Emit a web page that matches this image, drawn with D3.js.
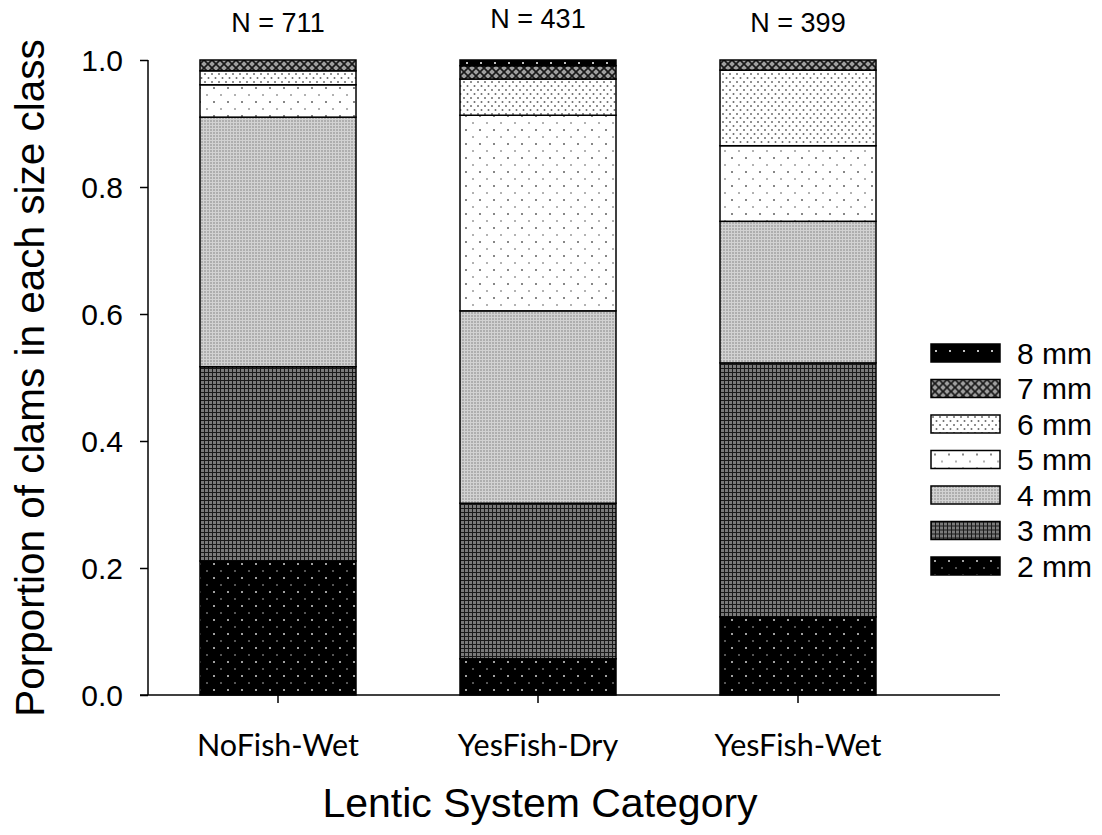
<!DOCTYPE html>
<html>
<head>
<meta charset="utf-8">
<script src="https://cdn.jsdelivr.net/npm/d3@7"></script>
<style>
  body { margin: 0; background: #fff; }
  svg { display: block; }
</style>
</head>
<body>
<svg width="1102" height="835"></svg>
<script>
// categories and size classes
var categories = ["NoFish-Wet", "YesFish-Dry", "YesFish-Wet"];
var sampleSizes = [711, 431, 399];
var sizeClasses = ["2 mm", "3 mm", "4 mm", "5 mm", "6 mm", "7 mm", "8 mm"];

// proportion in each size class, per category
var p2mm = [0.211, 0.057, 0.123];
var p3mm = [0.306, 0.245, 0.400];
var p4mm = [0.393, 0.303, 0.223];
var p5mm = [0.051, 0.308, 0.119];
var p6mm = [0.022, 0.057, 0.119];
var p7mm = [0.017, 0.021, 0.016];
var p8mm = [0.000, 0.009, 0.000];

var yTicks = [0, 0.2, 0.4, 0.6, 0.8, 1.0];

var series = [p2mm, p3mm, p4mm, p5mm, p6mm, p7mm, p8mm];
var rows = categories.map(function (c, i) {
    var r = { cat: c };
    sizeClasses.forEach(function (s, k) { r[s] = series[k][i]; });
    return r;
});

var svg = d3.select("svg");
var defs = svg.append("defs");

var plotLeft = 148, plotRight = 928, plotTop = 60, plotBottom = 695;
var arial = "'Liberation Sans', Arial, sans-serif";

var x = d3.scaleBand()
    .domain(categories)
    .range([plotLeft, plotRight])
    .paddingInner(0.4)
    .paddingOuter(0.2);

var y = d3.scaleLinear()
    .domain([0, 1])
    .range([plotBottom, plotTop]);

// fill patterns, one per size class
function dotPattern(id, w, h, bg, dot, r, pts) {
    var p = defs.append("pattern")
        .attr("id", id)
        .attr("patternUnits", "userSpaceOnUse")
        .attr("width", w).attr("height", h);
    p.append("rect").attr("width", w).attr("height", h).attr("fill", bg);
    pts.forEach(function (q) {
        p.append("rect")
            .attr("x", q[0] - r).attr("y", q[1] - r)
            .attr("width", r * 2).attr("height", r * 2)
            .attr("fill", q[2] || dot);
    });
}

dotPattern("p2", 14, 14, "#000", "#a0a0a0", 1, [[4, 4], [11, 11, "#555"]]);
dotPattern("p4", 3, 3, "#d2d2d2", "#888", 0.7, [[1, 1]]);
dotPattern("p5", 14, 14, "#fff", "#444", 0.8, [[4, 4], [11, 11, "#888"]]);
dotPattern("p6", 7, 8, "#fff", "#555", 0.8, [[2, 2], [5.5, 6]]);
dotPattern("p8", 14, 14, "#000", "#c0c0c0", 1, [[5, 7]]);

var p3 = defs.append("pattern")
    .attr("id", "p3")
    .attr("patternUnits", "userSpaceOnUse")
    .attr("width", 4).attr("height", 4);
p3.append("rect").attr("width", 4).attr("height", 4).attr("fill", "#7a7a7a");
p3.append("path").attr("d", "M0,0.5H4M0.5,0V4").attr("stroke", "#1a1a1a").attr("stroke-width", 1);

var p7 = defs.append("pattern")
    .attr("id", "p7")
    .attr("patternUnits", "userSpaceOnUse")
    .attr("width", 8).attr("height", 8);
p7.append("rect").attr("width", 8).attr("height", 8).attr("fill", "#a0a0a0");
p7.append("path").attr("d", "M0,0L8,8M8,0L0,8").attr("stroke", "#1a1a1a").attr("stroke-width", 1.7);

var fills = ["url(#p2)", "url(#p3)", "url(#p4)", "url(#p5)", "url(#p6)", "url(#p7)", "url(#p8)"];

var stack = d3.stack().keys(sizeClasses);
var layers = stack(rows);

// bars
var g = svg.append("g");
layers.forEach(function (layer, k) {
    g.append("g")
        .selectAll("rect")
        .data(layer.filter(function (d) { return d[1] - d[0] > 0.0005; }))
        .enter().append("rect")
        .attr("x", function (d) { return x(d.data.cat); })
        .attr("y", function (d) { return y(d[1]); })
        .attr("width", x.bandwidth())
        .attr("height", function (d) { return y(d[0]) - y(d[1]); })
        .attr("fill", fills[k])
        .attr("stroke", "#000")
        .attr("stroke-width", 1.5);
});

// axes
var yAxis = d3.axisLeft(y).tickValues(yTicks).tickSize(8).tickFormat(d3.format(".1f"));
var ya = svg.append("g")
    .attr("transform", "translate(" + plotLeft + ",0)")
    .call(yAxis);
ya.select(".domain").remove();
ya.append("line").attr("x1", 0).attr("x2", 0).attr("y1", plotTop).attr("y2", plotBottom)
    .attr("stroke", "#000").attr("stroke-width", 1.5);
ya.selectAll(".tick line").attr("stroke-width", 1.5);
ya.selectAll(".tick text")
    .attr("x", -25)
    .attr("dy", "0.36em")
    .style("font-family", arial)
    .style("font-size", "30px")
    .attr("fill", "#000");

var xAxis = d3.axisBottom(x).tickSize(8).tickSizeOuter(0);
var xa = svg.append("g")
    .attr("transform", "translate(0," + plotBottom + ")")
    .call(xAxis);
xa.select(".domain").remove();
xa.append("line").attr("x1", plotLeft - 8).attr("x2", 1000).attr("y1", 0).attr("y2", 0)
    .attr("stroke", "#000").attr("stroke-width", 1.5);
xa.selectAll(".tick line").attr("stroke-width", 1.5);
xa.selectAll(".tick text")
    .attr("y", 50)
    .attr("dy", "0.36em")
    .style("font-family", "Lato, 'Open Sans', sans-serif")
    .style("font-size", "30.5px")
    .attr("fill", "#000");

// N labels
svg.append("g").selectAll("text")
    .data(categories)
    .enter().append("text")
    .attr("x", function (d) { return x(d) + x.bandwidth() / 2; })
    .attr("y", function (d, i) { return i === 1 ? 28 : 32; })
    .attr("text-anchor", "middle")
    .style("font-family", arial)
    .style("font-size", "27px")
    .text(function (d, i) { return "N = " + sampleSizes[i]; });

// axis titles
svg.append("text")
    .attr("x", 540).attr("y", 817)
    .attr("text-anchor", "middle")
    .style("font-family", arial)
    .style("font-size", "41px")
    .text("Lentic System Category");

svg.append("text")
    .attr("transform", "translate(44,378) rotate(-90)")
    .attr("text-anchor", "middle")
    .style("font-family", arial)
    .style("font-size", "40.5px")
    .text("Porportion of clams in each size class");

// legend, largest size first
var legend = svg.append("g").attr("transform", "translate(931,344)");
var legendItems = sizeClasses.slice().reverse();
legendItems.forEach(function (s, i) {
    var k = sizeClasses.indexOf(s);
    var row = legend.append("g").attr("transform", "translate(0," + (i * 35.5) + ")");
    row.append("rect")
        .attr("width", 69).attr("height", 18)
        .attr("fill", fills[k])
        .attr("stroke", "#000")
        .attr("stroke-width", 1.5);
    row.append("text")
        .attr("x", 86).attr("y", 9)
        .attr("dy", "0.36em")
        .style("font-family", arial)
        .style("font-size", "30px")
        .text(s);
});
</script>
</body>
</html>
